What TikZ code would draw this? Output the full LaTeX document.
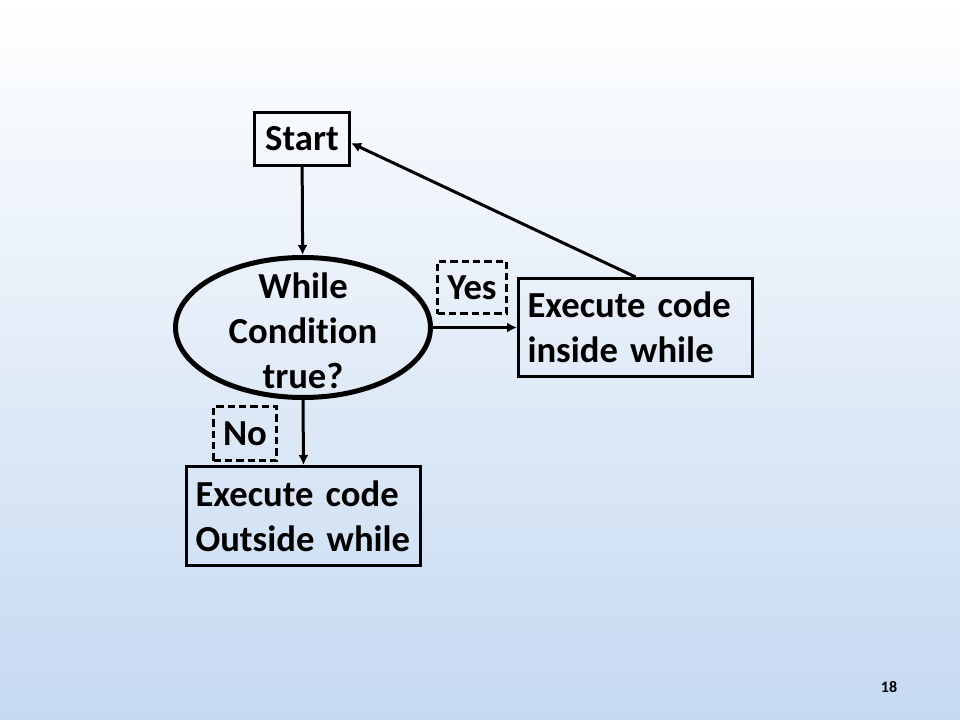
\documentclass[tikz,border=0pt]{standalone}
\usepackage{fontspec}
\setmainfont{Carlito}[Ligatures=NoCommon]
\usetikzlibrary{positioning,shapes.geometric,arrows.meta}
\definecolor{slidetop}{RGB}{255,255,255}
\definecolor{slidebottom}{RGB}{197,217,241}
\tikzset{
	box/.style={draw, line width=2.25pt, rectangle, inner sep=0pt},
	dashbox/.style={draw, line width=2.25pt, dash pattern=on 5.5pt off 3pt, inner sep=0pt},
	flow/.style={->, line width=2.25pt},
}
\begin{document}
\begin{tikzpicture}[x=0.75pt, y=-0.75pt, font=\fontsize{27.5}{33.75}\selectfont\bfseries, >={Latex[length=7.5pt,width=7.5pt]}]
		
		\def \px {0.75pt}
		
		% slide background
		\shade[top color=slidetop, bottom color=slidebottom] (0,0) rectangle (960,720);
		
		\node[box, minimum width=95*\px, minimum height=53*\px] (start) at (302,139) {Start};
		\node[draw, ellipse, line width=3.75pt, inner sep=0pt, minimum width=255*\px, minimum height=140*\px,
			label={[align=center, yshift=-3*\px]center:While\\Condition\\true?}] (cond) at (303,327.5) {};
		\node[box, minimum width=234*\px, minimum height=98*\px, text width=216*\px, align=left] (inside) at (635.5,327.5) {Execute code\\inside while};
		\node[box, minimum width=234*\px, minimum height=99*\px, text width=216*\px, align=left] (outside) at (303.5,516) {Execute code\\Outside while};
		\node[dashbox, minimum width=69*\px, minimum height=52*\px] (yes) at (472,287.5) {Yes};
		\node[dashbox, minimum width=63*\px, minimum height=54*\px] (no) at (245,433.5) {No};
		
		\draw[flow] (start) -- (cond);
		\draw[flow] (cond.east) -- (inside.west);
		\draw[flow] (cond.south) -- (outside.north);
		\draw[flow] (inside.north) -- ([yshift=-4*\px]start.east);
		
		\node[font=\fontsize{12}{14}\selectfont\bfseries] (page) at (889,687) {18};
		
\end{tikzpicture}
\end{document}
